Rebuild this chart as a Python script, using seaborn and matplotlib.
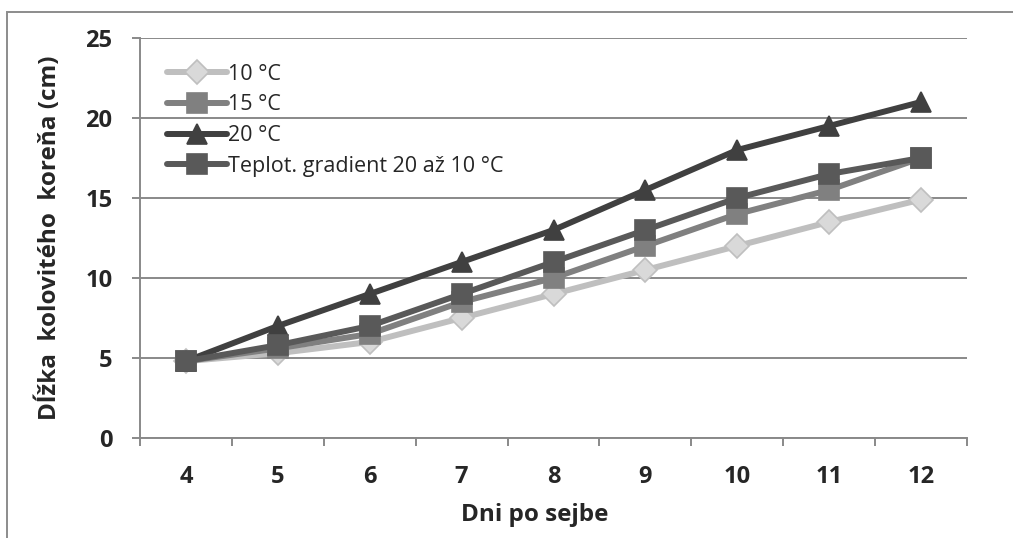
import matplotlib
matplotlib.use("Agg")
import matplotlib.pyplot as plt
import seaborn as sns
import pandas as pd
from matplotlib.patches import Rectangle

days = [4, 5, 6, 7, 8, 9, 10, 11, 12]
series_names = ["10 °C", "15 °C", "20 °C", "Teplot. gradient 20 až 10 °C"]
t10 = [4.8, 5.3, 6.0, 7.5, 9.0, 10.5, 12.0, 13.5, 14.9]
t15 = [4.8, 5.6, 6.5, 8.5, 10.0, 12.0, 14.0, 15.5, 17.5]
t20 = [4.8, 7.0, 9.0, 11.0, 13.0, 15.5, 18.0, 19.5, 21.0]
gradient = [4.8, 5.8, 7.0, 9.0, 11.0, 13.0, 15.0, 16.5, 17.5]
y_ticks = [0, 5, 10, 15, 20, 25]

frames = []
for name, vals in zip(series_names, [t10, t15, t20, gradient]):
    frames.append(pd.DataFrame({"den": days, "dlzka": vals, "seria": name}))
df = pd.concat(frames, ignore_index=True)

sns.set_style("white")
plt.rcParams["font.family"] = ["Open Sans", "DejaVu Sans"]

line_colors = {"10 °C": "#bfbfbf", "15 °C": "#808080", "20 °C": "#404040",
               "Teplot. gradient 20 až 10 °C": "#595959"}
marker_faces = {"10 °C": "#d9d9d9", "15 °C": "#808080", "20 °C": "#404040",
                "Teplot. gradient 20 až 10 °C": "#595959"}
marker_edges = {"10 °C": "#bfbfbf", "15 °C": "#808080", "20 °C": "#404040",
                "Teplot. gradient 20 až 10 °C": "#595959"}
marker_shapes = {"10 °C": "D", "15 °C": "s", "20 °C": "^",
                 "Teplot. gradient 20 až 10 °C": "s"}
marker_sizes = {"10 °C": 12, "15 °C": 14, "20 °C": 15,
                "Teplot. gradient 20 až 10 °C": 14}

fig = plt.figure(figsize=(10.13, 5.38), dpi=100)
ax = fig.add_axes([0.1382, 0.1859, 0.8164, 0.7435])

grid_color = "#898989"
for yv in y_ticks:
    ax.axhline(yv, color=grid_color, lw=1.4, zorder=0)

for name in series_names:
    sub = df[df["seria"] == name]
    sns.lineplot(data=sub, x="den", y="dlzka", ax=ax, color=line_colors[name],
                 lw=4.3, marker=marker_shapes[name], markersize=marker_sizes[name],
                 markerfacecolor=marker_faces[name], markeredgecolor=marker_edges[name],
                 markeredgewidth=1.2, label=name, solid_capstyle="round",
                 solid_joinstyle="round", zorder=3)

ax.set_xlim(3.5, 12.5)
ax.set_ylim(0, 25)

# category boundaries carry the tick marks, labels sit at the category centres
ax.set_xticks([d - 0.5 for d in days] + [days[-1] + 0.5])
ax.set_xticklabels([])
ax.set_xticks(days, minor=True)
ax.set_xticklabels([str(d) for d in days], minor=True, fontsize=17, fontweight="bold")
ax.tick_params(axis="x", which="major", direction="out", length=6, width=1.4,
               color=grid_color, bottom=True)
ax.tick_params(axis="x", which="minor", length=0, pad=19.5)

ax.set_yticks(y_ticks)
ax.set_yticklabels([str(v) for v in y_ticks], fontsize=17, fontweight="bold")
ax.tick_params(axis="y", direction="out", length=6, width=1.4, color=grid_color,
               left=True, pad=14)

for side in ["top", "right"]:
    ax.spines[side].set_visible(False)
for side in ["left", "bottom"]:
    ax.spines[side].set_color(grid_color)
    ax.spines[side].set_linewidth(1.4)

ax.set_xlabel("Dni po sejbe", fontsize=17.5, fontweight="bold")
ax.xaxis.set_label_coords((535 - 140) / 827, -0.163)
ax.set_ylabel("Dĺžka  kolovitého  koreňa (cm)", fontsize=17.5, fontweight="bold")
ax.yaxis.set_label_coords(-0.094, 0.5)

leg = ax.legend(loc="upper left", bbox_to_anchor=(0.022, 0.957), frameon=False,
                fontsize=15.5, handlelength=2.8, handletextpad=0.05,
                labelspacing=0.45, borderaxespad=0)
for h in leg.legend_handles:
    h.set_solid_capstyle("round")

# outer chart frame
fig.patches.append(Rectangle((7 / 1013, -0.05), 1.1, (538 - 12) / 538 + 0.05,
                             transform=fig.transFigure, fill=False,
                             edgecolor="#8c8c8c", lw=1.4, clip_on=False))

fig.savefig("out.png", dpi=100)
